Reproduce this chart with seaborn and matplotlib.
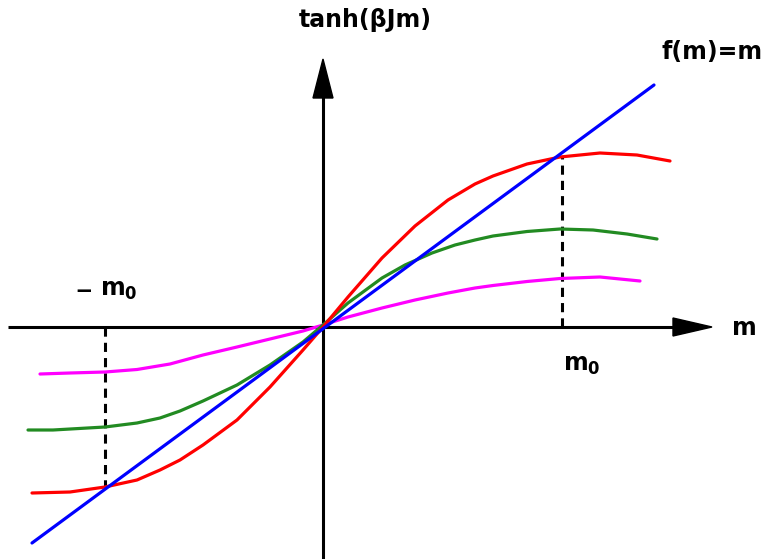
import numpy as np
import pandas as pd
import matplotlib
matplotlib.use("Agg")
import matplotlib.pyplot as plt
import seaborn as sns
from matplotlib.patches import Polygon

# ---- data (origin at the axes crossing) ----
line_m = [-291, 331]
line_f = [-216, 242]

red_m = [-291, -253, -218, -186, -163, -143, -120, -86, -53, -20, 0, 25, 59, 92, 125, 152, 170, 204, 237, 277, 314, 347]
red_f = [-166, -165, -160, -153, -143, -133, -118, -93, -60, -23, 0, 30, 69, 101, 127, 143, 151, 163, 170, 174, 172, 166]

green_m = [-295, -270, -218, -186, -163, -143, -120, -86, -53, -20, 0, 25, 59, 82, 109, 132, 152, 170, 204, 237, 270, 304, 334]
green_f = [-103, -103, -100, -96, -91, -84, -74, -58, -38, -15, 2, 24, 49, 62, 74, 82, 87, 91, 95.5, 98, 97, 93, 88]

mag_m = [-283, -253, -218, -186, -153, -120, -86, -53, -20, 0, 25, 59, 92, 125, 152, 170, 204, 237, 277, 317]
mag_f = [-47, -46, -45, -42.5, -37, -28, -20, -12, -4, 2, 10, 19, 27, 34, 39, 41.5, 45.5, 48.5, 50, 46]

m0 = 239
neg_m0 = -218
f_at_m0 = 171
f_at_neg_m0 = -160

sns.set_style("white")
plt.rcParams['font.family'] = ['DejaVu Sans']
plt.rcParams['mathtext.default'] = 'bf'
plt.rcParams['text.color'] = 'black'

fig = plt.figure(figsize=(7.64, 5.59), dpi=100)
ax = fig.add_axes([0, 0, 1, 1])
ax.set_xlim(-323, 441)
ax.set_ylim(-232, 327)
ax.axis("off")

# axes with arrowheads
ax.plot([-315, 355], [0, 0], color="black", lw=2.2, solid_capstyle="butt", zorder=1)
ax.add_patch(Polygon([[350, 9], [389, 0], [350, -9]], closed=True, color="black", zorder=1))
ax.plot([0, 0], [-232, 235], color="black", lw=2.2, solid_capstyle="butt", zorder=1)
ax.add_patch(Polygon([[-10, 229], [0, 268], [10, 229]], closed=True, color="black", zorder=1))

# dashed guides
ax.plot([m0, m0], [0, f_at_m0], color="black", lw=2.2, ls=(0, (3, 2)), zorder=2)
ax.plot([neg_m0, neg_m0], [0, f_at_neg_m0], color="black", lw=2.2, ls=(0, (3, 2)), zorder=2)

df = pd.concat([
    pd.DataFrame({"m": mag_m, "f": mag_f, "s": "mag"}),
    pd.DataFrame({"m": green_m, "f": green_f, "s": "green"}),
    pd.DataFrame({"m": red_m, "f": red_f, "s": "red"}),
    pd.DataFrame({"m": line_m, "f": line_f, "s": "blue"}),
])
palette = {"mag": "#ff00ff", "green": "#228b22", "red": "#ff0000", "blue": "#0000ff"}
sns.lineplot(data=df, x="m", y="f", hue="s", palette=palette, sort=False,
             estimator=None, lw=2.3, legend=False, ax=ax, zorder=3)
for ln in ax.get_lines()[-4:]:
    ln.set_solid_joinstyle("round")

fs = 17
ax.text(42, 307, "tanh(βJm)", ha="center", va="center", fontsize=fs, fontweight="bold")
ax.text(389, 275, "f(m)=m", ha="center", va="center", fontsize=fs, fontweight="bold")
ax.text(421, -1, "m", ha="center", va="center", fontsize=fs, fontweight="bold")
ax.text(259, -38, "m$_0$", ha="center", va="center", fontsize=fs, fontweight="bold")
ax.text(-239, 37, "–", ha="center", va="center", fontsize=fs + 7)
ax.text(-204, 37, "m$_0$", ha="center", va="center", fontsize=fs, fontweight="bold")

fig.savefig("out.png", dpi=100)
